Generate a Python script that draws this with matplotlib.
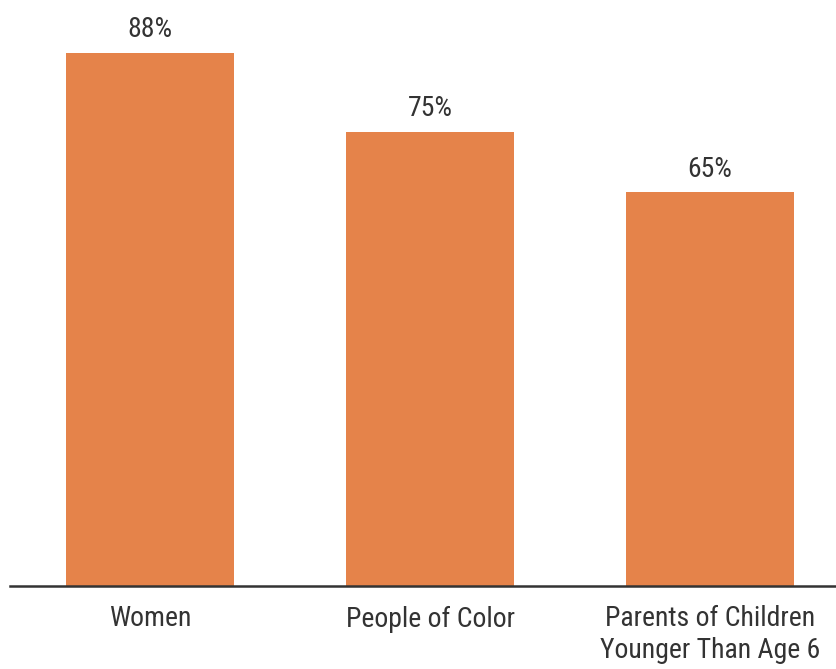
import matplotlib.pyplot as plt
from matplotlib import font_manager

categories = ["Women", "People of Color", "Parents of Children\nYounger Than Age 6"]
shares = [88, 75, 65]

bar_color = "#E5834A"
text_color = "#333333"

# prefer a narrow face; fall back to a smaller regular one
names = {f.name for f in font_manager.fontManager.ttflist}
narrow = [n for n in ["Liberation Sans Narrow", "DejaVu Sans Condensed",
                      "Roboto Condensed", "Open Sans Condensed"] if n in names]
if narrow:
    plt.rcParams['font.family'] = [narrow[0], 'DejaVu Sans']
    size = 20
else:
    plt.rcParams['font.family'] = ['DejaVu Sans']
    size = 16
weight = "normal"

fig = plt.figure(figsize=(8.36, 6.69), dpi=100)
ax = fig.add_axes([10 / 836, 83 / 669, 826 / 836, 586 / 669])

x = range(len(categories))
bars = ax.bar(x, shares, width=0.6, color=bar_color, zorder=2)

for b, v in zip(bars, shares):
    ax.annotate(f"{v}%", (b.get_x() + b.get_width() / 2, v),
                xytext=(0, 7), textcoords="offset points",
                ha="center", va="bottom", fontsize=size, fontweight=weight,
                color=text_color)

ax.set_xlim(-0.5, 2.45)
ax.set_ylim(0, 96.75)
ax.set_xticks(list(x))
ax.set_xticklabels(categories, fontsize=size, fontweight=weight,
                   color=text_color, linespacing=1.2)
ax.tick_params(axis="x", length=0, pad=14)
ax.set_yticks([])

for side in ["top", "right", "left"]:
    ax.spines[side].set_visible(False)
ax.spines["bottom"].set_color(text_color)
ax.spines["bottom"].set_linewidth(1.8)
ax.spines["bottom"].set_zorder(3)

fig.savefig("out.png", dpi=100)
